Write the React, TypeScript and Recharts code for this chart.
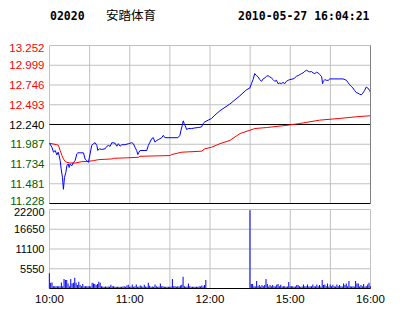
import React from 'react';
import { LineChart, Line, XAxis, YAxis, CartesianGrid, ReferenceLine, BarChart, Bar } from 'recharts';

const stockCode = '02020';
const stockName = '安踏体育';
const stamp = '2010-05-27 16:04:21';
const prevClose = 12.24;

const priceTicks = [11.228, 11.481, 11.734, 11.987, 12.24, 12.493, 12.746, 12.999, 13.252];
const pctTicks = [-8.27, -6.2, -4.13, -2.07, 0, 2.07, 4.13, 6.2, 8.27];
const volumeTicks = [5550, 11100, 16650, 22200];
const minuteTicks = [0, 30, 60, 90, 120, 150, 180, 210, 240];
const timeLabels: Record<number, string> = { 0: '10:00', 60: '11:00', 120: '12:00', 180: '15:00', 240: '16:00' };

// minutes since 10:00 (afternoon session continues at 150)
const priceMinutes = [
  0, 1.8, 3, 4.3, 5.5, 6.5, 7.2, 8, 8.7, 9.7, 10.4, 11.2, 12.2, 13, 14, 14.7, 15.4, 16.7, 17.9, 19.2,
  20.4, 21.2, 25.4, 26.6, 27.9, 29.1, 31.6, 32.8, 34.1, 35.4, 36.1, 37.3, 39.1, 41.6, 42.8, 44, 45.3, 46.6, 49, 50.3,
  51.5, 52.8, 54, 56.5, 59, 61.5, 62.7, 63.9, 65.2, 66, 66.9, 67.7, 72.7, 73.9, 75.1, 76.4, 77.6, 78.9, 80.1, 81.3,
  82.6, 83.9, 85.1, 86.3, 96, 97.5, 98.3, 99.3, 100, 100.7, 101.8, 102.5, 103.7, 106.3, 108.7, 111.2, 113.7, 114.9, 116.2, 118.7,
  121.2, 123.7, 127.4, 134.9, 142.3, 147.3, 149.8, 151, 152.2, 153.4, 154.8, 156, 157.2, 158.5, 159.7, 161, 162.2, 163.4, 164.7, 165.9,
  167.2, 168.4, 169.7, 170.9, 172.2, 173.4, 174.6, 175.9, 177.1, 178.4, 179.6, 182.1, 183.4, 184.6, 185.9, 187.1, 188.4, 189.6, 190.9, 192.2,
  193.4, 194.6, 195.9, 197.1, 198.4, 199.6, 200.9, 202, 203.4, 204.2, 204.6, 205.9, 207.1, 208.4, 209.6, 213.4, 217.1, 219.4, 220.9, 222,
  223.1, 224.4, 225.6, 226.9, 228.1, 229.3, 230.6, 231.8, 233.1, 234.3, 235.6, 236.8, 238, 239.3, 240,
];
const priceValues = [
  12.0, 11.949, 11.885, 11.907, 11.851, 11.885, 11.842, 11.777, 11.673, 11.56, 11.41, 11.56, 11.625, 11.712, 11.734, 11.69, 11.734, 11.712, 11.755, 11.777,
  11.864, 11.877, 11.877, 11.799, 11.777, 11.755, 11.972, 11.994, 12.007, 11.972, 11.907, 11.929, 11.92, 11.929, 11.959, 11.972, 11.959, 12.007, 12.001, 11.962,
  11.994, 11.962, 11.981, 11.981, 11.994, 12.007, 11.994, 11.949, 11.907, 11.855, 11.885, 11.907, 11.907, 11.972, 12.014, 12.058, 12.071, 12.014, 12.036, 12.045,
  12.058, 12.071, 12.101, 12.071, 12.071, 12.101, 12.166, 12.231, 12.287, 12.253, 12.209, 12.175, 12.188, 12.188, 12.196, 12.201, 12.209, 12.253, 12.274, 12.296,
  12.318, 12.361, 12.416, 12.503, 12.607, 12.685, 12.707, 12.763, 12.815, 12.892, 12.866, 12.85, 12.815, 12.793, 12.824, 12.837, 12.857, 12.866, 12.85, 12.837,
  12.815, 12.793, 12.806, 12.763, 12.772, 12.763, 12.78, 12.763, 12.793, 12.806, 12.815, 12.824, 12.837, 12.857, 12.866, 12.879, 12.892, 12.901, 12.922, 12.935,
  12.922, 12.914, 12.918, 12.901, 12.892, 12.909, 12.901, 12.879, 12.857, 12.763, 12.793, 12.815, 12.806, 12.806, 12.824, 12.824, 12.824, 12.824, 12.815, 12.806,
  12.78, 12.75, 12.728, 12.707, 12.676, 12.65, 12.642, 12.629, 12.62, 12.642, 12.676, 12.72, 12.707, 12.676, 12.65,
];

const avgMinutes = [
  0, 5.5, 6.7, 8, 9.3, 10.4, 11.7, 13, 15.4, 19.2, 24.2, 29.1, 32.8, 36.6, 46.6, 47.8, 56.5, 66.4, 67.7, 90,
  91.3, 98.8, 113.7, 116.2, 121.2, 127.4, 134.9, 142.3, 149.8, 153.5, 162.2, 178.4, 187.1, 202, 217.1, 229.3, 240,
];
const avgValues = [
  12.0, 11.981, 11.972, 11.907, 11.842, 11.799, 11.768, 11.755, 11.747, 11.747, 11.764, 11.768, 11.777, 11.79, 11.799, 11.807, 11.812, 11.82, 11.833, 11.842,
  11.855, 11.885, 11.898, 11.929, 11.949, 11.994, 12.036, 12.123, 12.166, 12.188, 12.201, 12.231, 12.253, 12.296, 12.318, 12.339, 12.352,
];

// one value per minute, 0..240
const volume = [
  4300, 1620, 1700, 660, 660, 660, 660, 660, 660, 1700,
  660, 2660, 2370, 2370, 1420, 660, 2660, 1420, 1620, 3040,
  1620, 950, 1900, 950, 660, 1240, 660, 660, 660, 660,
  660, 660, 1620, 1420, 1240, 950, 1240, 1900, 1620, 660,
  570, 480, 570, 480, 570, 480, 1050, 660, 660, 480,
  480, 480, 480, 480, 480, 570, 660, 480, 850, 1050,
  480, 570, 1140, 480, 660, 1140, 480, 570, 850, 660,
  480, 1050, 570, 480, 1620, 750, 480, 570, 480, 1140,
  660, 480, 570, 1420, 660, 660, 480, 480, 480, 480,
  480, 570, 2660, 660, 660, 480, 660, 570, 850, 1050,
  3330, 660, 480, 570, 1420, 660, 480, 480, 480, 480,
  480, 480, 660, 570, 850, 570, 950, 2370, 0, 0,
  0, 0, 0, 0, 0, 0, 0, 0, 0, 0,
  0, 0, 0, 0, 0, 0, 0, 0, 0, 0,
  0, 0, 0, 0, 0, 0, 0, 0, 0, 0,
  22000, 1240, 1240, 660, 570, 2090, 660, 950, 570, 950,
  660, 950, 2660, 1240, 570, 950, 660, 950, 660, 570,
  1050, 1240, 660, 1050, 570, 660, 660, 480, 570, 1800,
  660, 660, 660, 480, 570, 950, 950, 660, 480, 570,
  1140, 660, 660, 1140, 570, 660, 660, 1140, 660, 570,
  1140, 660, 950, 570, 2370, 950, 1140, 660, 1420, 570,
  1140, 660, 1050, 660, 570, 1140, 660, 950, 660, 570,
  1420, 950, 1420, 660, 2090, 660, 570, 660, 570, 2090,
  1420, 1420, 570, 950, 660, 1240, 570, 660, 1140, 1620,
  660,
];

const priceData = priceMinutes.map((m, i) => ({ m, price: priceValues[i] }));
const avgData = avgMinutes.map((m, i) => ({ m, avg: avgValues[i] }));
const volumeData = volume.map((v, i) => ({ m: i, vol: v }));

const axisFont = '"Liberation Sans", Arial, sans-serif';
const GRID = '#c0c0c0';
const GREEN = '#006000';

const PriceTick = (props: any) => {
  const { x, y, payload } = props;
  const v = payload.value;
  const color = v > prevClose + 1e-6 ? '#ff0000' : v < prevClose - 1e-6 ? GREEN : '#000000';
  let dy = 4;
  if (v === 13.252) dy = 6;
  if (v === 11.228) dy = 1;
  return (
    <text x={x} y={y + dy} textAnchor="end" fill={color} fontSize={11.5} fontFamily={axisFont}>
      {v.toFixed(3)}
    </text>
  );
};

const PctTick = (props: any) => {
  const { x, y, payload } = props;
  const v = payload.value;
  const color = v > 0 ? '#ff0000' : v < 0 ? GREEN : '#000000';
  const sign = v > 0 ? '+' : v < 0 ? '-' : '';
  let dy = 4;
  if (v === 8.27) dy = 6;
  if (v === -8.27) dy = 1;
  return (
    <text x={x + (v === 0 ? 7 : 0)} y={y + dy} textAnchor="start" fill={color} fontSize={11.5} fontFamily={axisFont}>
      {`${sign}${Math.abs(v).toFixed(2)} %`}
    </text>
  );
};

const VolTick = (props: any) => {
  const { x, y, payload } = props;
  const v = payload.value;
  const dy = v === 22200 ? 6 : 4;
  return (
    <text x={x} y={y + dy} textAnchor="end" fill="#000" fontSize={11} fontFamily={axisFont}>
      {v}
    </text>
  );
};

const TimeTick = (props: any) => {
  const { x, y, payload } = props;
  const label = timeLabels[payload.value];
  if (!label) return <g />;
  return (
    <text x={x} y={y + 14} textAnchor="middle" fill="#000" fontSize={11.5} fontFamily={axisFont}>
      {label}
    </text>
  );
};

export default function App() {
  return (
    <div style={{ position: 'absolute', left: 0, top: 0, width: 414, height: 314, background: '#fff', overflow: 'hidden' }}>
      <div style={{ position: 'absolute', left: 50, top: 9, fontFamily: '"DejaVu Sans Mono", monospace', fontWeight: 'bold', fontSize: 11.5, lineHeight: '14px' }}>
        {stockCode}
      </div>
      <div style={{ position: 'absolute', left: 106, top: 7, fontFamily: '"Noto Sans CJK SC", sans-serif', fontSize: 12.5, lineHeight: '16px' }}>
        {stockName}
      </div>
      <div style={{ position: 'absolute', left: 238, top: 9, fontFamily: '"DejaVu Sans Mono", monospace', fontWeight: 'bold', fontSize: 11.5, lineHeight: '14px' }}>
        {stamp}
      </div>

      <div style={{ position: 'absolute', left: 0, top: 0 }}>
        <LineChart width={414} height={207} margin={{ top: 45.5, right: 0.5, left: 0.5, bottom: 3.5 }}>
          <CartesianGrid yAxisId="price" stroke={GRID} strokeWidth={1} />
          <XAxis dataKey="m" type="number" domain={[0, 240]} ticks={minuteTicks} hide allowDuplicatedCategory={false} />
          <YAxis
            yAxisId="price"
            domain={[11.228, 13.252]}
            ticks={priceTicks}
            width={49}
            tickSize={0}
            tickMargin={5}
            axisLine={false}
            tickLine={false}
            tick={<PriceTick />}
            interval={0}
          />
          <YAxis
            yAxisId="pct"
            orientation="right"
            domain={[-8.27, 8.27]}
            ticks={pctTicks}
            width={43}
            tickSize={0}
            tickMargin={1}
            axisLine={{ stroke: '#808080' }}
            tickLine={false}
            tick={<PctTick />}
            interval={0}
          />
          <ReferenceLine yAxisId="price" y={prevClose} stroke="#000" strokeWidth={1} />
          <ReferenceLine yAxisId="price" y={11.228} stroke="#000" strokeWidth={1} />
          <Line yAxisId="price" data={avgData} dataKey="avg" type="linear" stroke="#ff0000" strokeWidth={1} dot={false} isAnimationActive={false} />
          <Line yAxisId="price" data={priceData} dataKey="price" type="linear" stroke="#0000ff" strokeWidth={1} dot={false} isAnimationActive={false} />
        </LineChart>
      </div>

      <div style={{ position: 'absolute', left: 0, top: 203 }}>
        <BarChart width={414} height={111} data={volumeData} margin={{ top: 6.5, right: 43.5, left: 0.5, bottom: 0 }} barCategoryGap={0}>
          <CartesianGrid stroke={GRID} strokeWidth={1} />
          <XAxis
            dataKey="m"
            type="number"
            domain={[0, 240]}
            ticks={minuteTicks}
            height={25.5}
            tickSize={0}
            tickMargin={0}
            axisLine={false}
            tickLine={false}
            tick={<TimeTick />}
            interval={0}
          />
          <YAxis
            domain={[0, 22200]}
            ticks={volumeTicks}
            width={49}
            tickSize={0}
            tickMargin={5}
            axisLine={false}
            tickLine={false}
            tick={<VolTick />}
            interval={0}
          />
          <ReferenceLine y={0} stroke="#000" strokeWidth={1} />
          <Bar dataKey="vol" fill="#0000ff" barSize={1} isAnimationActive={false} />
        </BarChart>
      </div>
    </div>
  );
}
